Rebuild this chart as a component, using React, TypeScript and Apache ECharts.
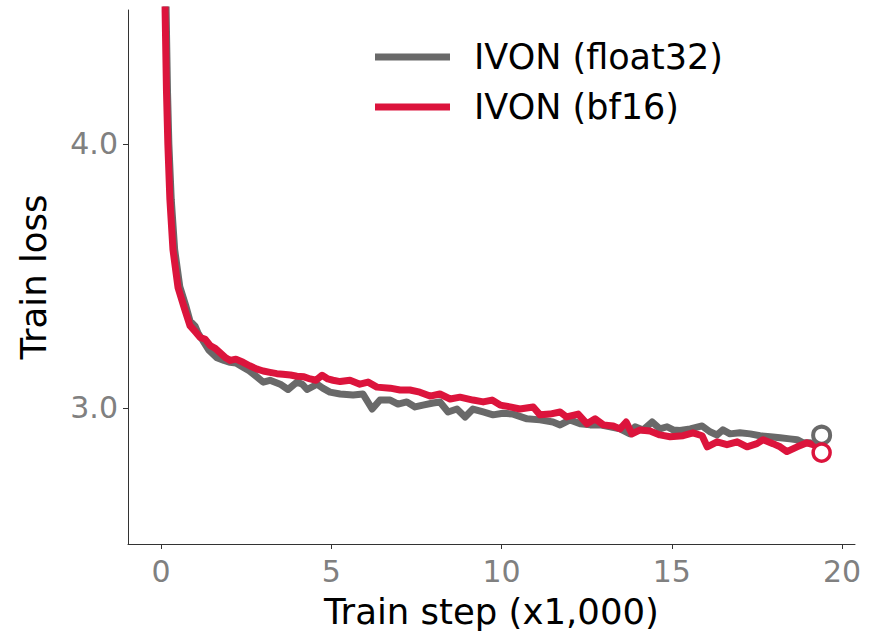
import React, { useEffect, useRef } from "react";
import * as echarts from "echarts";

const xTicks = [0, 5, 10, 15, 20];
const yTicks = [3.0, 4.0];

const float32Name = "IVON (float32)";
const bf16Name = "IVON (bf16)";

const float32Loss: [number, number][] = [
  [0.1, 5.2], [0.15, 4.5], [0.19, 4.2], [0.23, 4.0], [0.3, 3.79], [0.4, 3.6], [0.55, 3.46], [0.72, 3.39],
  [0.85, 3.33], [1.0, 3.31], [1.1, 3.28], [1.23, 3.255], [1.4, 3.22], [1.64, 3.19], [1.85, 3.18], [2.03, 3.173],
  [2.2, 3.17], [2.41, 3.154], [2.6, 3.14], [2.82, 3.117], [3.0, 3.098], [3.2, 3.105], [3.5, 3.09], [3.73, 3.07],
  [3.99, 3.098], [4.15, 3.09], [4.29, 3.07], [4.58, 3.09], [4.75, 3.075], [4.96, 3.06], [5.26, 3.053], [5.64, 3.049],
  [5.93, 3.053], [6.2, 2.996], [6.43, 3.03], [6.73, 3.03], [6.96, 3.015], [7.22, 3.023], [7.46, 3.004], [7.69, 3.011],
  [7.99, 3.019], [8.19, 3.023], [8.43, 2.985], [8.69, 2.996], [8.93, 2.966], [9.16, 2.996], [9.46, 2.985], [9.75, 2.974],
  [10.04, 2.98], [10.34, 2.977], [10.75, 2.959], [11.13, 2.955], [11.51, 2.947], [11.72, 2.936], [12.01, 2.955], [12.31, 2.94],
  [12.6, 2.936], [12.89, 2.936], [13.19, 2.929], [13.48, 2.921], [13.77, 2.902], [13.92, 2.929], [14.16, 2.917], [14.42, 2.947],
  [14.65, 2.921], [14.86, 2.929], [15.04, 2.917], [15.24, 2.915], [15.54, 2.921], [15.89, 2.932], [16.12, 2.91], [16.33, 2.898],
  [16.5, 2.917], [16.71, 2.902], [17.0, 2.906], [17.3, 2.902], [17.59, 2.895], [17.89, 2.891], [18.18, 2.887], [18.47, 2.883],
  [18.68, 2.88], [18.86, 2.868], [19.06, 2.868],
];

const bf16Loss: [number, number][] = [
  [0.08, 5.2], [0.12, 4.5], [0.16, 4.2], [0.2, 4.0], [0.26, 3.79], [0.35, 3.6], [0.5, 3.455], [0.68, 3.38],
  [0.85, 3.312], [1.0, 3.29], [1.15, 3.267], [1.3, 3.26], [1.44, 3.237], [1.6, 3.225], [1.73, 3.21], [1.9, 3.19],
  [2.03, 3.18], [2.2, 3.185], [2.41, 3.173], [2.6, 3.16], [2.82, 3.147], [3.0, 3.14], [3.2, 3.135], [3.4, 3.13],
  [3.58, 3.128], [3.8, 3.125], [3.99, 3.12], [4.2, 3.118], [4.38, 3.11], [4.55, 3.105], [4.73, 3.124], [4.9, 3.11],
  [5.05, 3.105], [5.26, 3.1], [5.55, 3.105], [5.84, 3.09], [6.08, 3.098], [6.34, 3.079], [6.73, 3.075], [7.02, 3.068],
  [7.31, 3.068], [7.6, 3.06], [7.9, 3.045], [8.19, 3.053], [8.49, 3.034], [8.78, 3.041], [9.16, 3.03], [9.46, 3.023],
  [9.72, 3.03], [9.96, 3.011], [10.25, 3.004], [10.54, 2.996], [10.93, 3.004], [11.13, 2.974], [11.42, 2.977], [11.72, 2.985],
  [11.91, 2.966], [12.25, 2.977], [12.51, 2.94], [12.75, 2.959], [12.99, 2.936], [13.28, 2.932], [13.48, 2.921], [13.66, 2.947],
  [13.83, 2.902], [14.07, 2.917], [14.36, 2.913], [14.65, 2.898], [14.95, 2.891], [15.33, 2.895], [15.62, 2.906], [15.89, 2.895],
  [16.04, 2.853], [16.33, 2.872], [16.62, 2.861], [16.92, 2.872], [17.21, 2.853], [17.5, 2.865], [17.68, 2.88], [17.97, 2.865],
  [18.18, 2.853], [18.38, 2.835], [18.68, 2.853], [18.97, 2.868], [19.15, 2.861], [19.3, 2.855],
];

const float32Final: [number, number][] = [[19.4, 2.897]];
const bf16Final: [number, number][] = [[19.4, 2.831]];

const GRAY = "#696969";
const RED = "#dc143c";
const FONT = "DejaVu Sans";

export default function App() {
  const ref = useRef<HTMLDivElement>(null);
  useEffect(() => {
    if (!ref.current) return;
    const chart = echarts.init(ref.current, undefined, { renderer: "svg" });
    chart.setOption({
      animation: false,
      backgroundColor: "#ffffff",
      textStyle: { fontFamily: FONT },
      grid: { left: 128, right: 20, top: 10, bottom: 86, containLabel: false },
      legend: {
        data: [float32Name, bf16Name],
        orient: "vertical",
        left: 370,
        top: 32,
        icon: "rect",
        itemWidth: 75,
        itemHeight: 7,
        itemGap: 10,
        selectedMode: false,
        textStyle: {
          fontFamily: FONT,
          fontSize: 35,
          color: "#000000",
          lineHeight: 40,
          padding: [0, 0, 0, 19],
        },
      },
      xAxis: {
        type: "value",
        min: -0.97,
        max: 20.38,
        name: "Train step (x1,000)",
        nameLocation: "middle",
        nameGap: 49,
        nameTextStyle: { fontFamily: FONT, fontSize: 35.5, color: "#000000" },
        splitLine: { show: false },
        axisLine: { show: true, onZero: false, lineStyle: { color: "#333333", width: 1 } },
        axisTick: { show: true, length: 5, customValues: xTicks, lineStyle: { color: "#333333" } },
        axisLabel: {
          customValues: xTicks,
          fontFamily: FONT,
          fontSize: 30,
          color: "#808080",
          margin: 12,
        },
      },
      yAxis: {
        type: "value",
        min: 2.485,
        max: 4.507,
        name: "Train loss",
        nameLocation: "middle",
        nameGap: 77,
        nameTextStyle: { fontFamily: FONT, fontSize: 35.5, color: "#000000" },
        splitLine: { show: false },
        axisLine: { show: true, onZero: false, lineStyle: { color: "#333333", width: 1 } },
        axisTick: { show: true, length: 5, customValues: yTicks, lineStyle: { color: "#333333" } },
        axisLabel: {
          customValues: yTicks,
          fontFamily: FONT,
          fontSize: 30,
          color: "#808080",
          margin: 10,
          formatter: (v: number) => v.toFixed(1),
        },
      },
      series: [
        {
          name: float32Name,
          type: "line",
          data: float32Loss,
          color: GRAY,
          showSymbol: false,
          symbol: "none",
          lineStyle: { color: GRAY, width: 7, join: "round", cap: "round" },
          z: 2,
          clip: true,
        },
        {
          name: bf16Name,
          type: "line",
          data: bf16Loss,
          color: RED,
          showSymbol: false,
          symbol: "none",
          lineStyle: { color: RED, width: 7, join: "round", cap: "round" },
          z: 3,
          clip: true,
        },
        {
          name: "float32 final",
          type: "scatter",
          data: float32Final,
          symbol: "circle",
          symbolSize: 17,
          itemStyle: { color: "#ffffff", borderColor: GRAY, borderWidth: 4, opacity: 1 },
          z: 4,
        },
        {
          name: "bf16 final",
          type: "scatter",
          data: bf16Final,
          symbol: "circle",
          symbolSize: 17,
          itemStyle: { color: "#ffffff", borderColor: RED, borderWidth: 3.5, opacity: 1 },
          z: 4,
        },
      ],
    });
    return () => chart.dispose();
  }, []);
  return (
    <div
      ref={ref}
      style={{ position: "fixed", left: 0, top: 0, width: 875, height: 634 }}
    />
  );
}
